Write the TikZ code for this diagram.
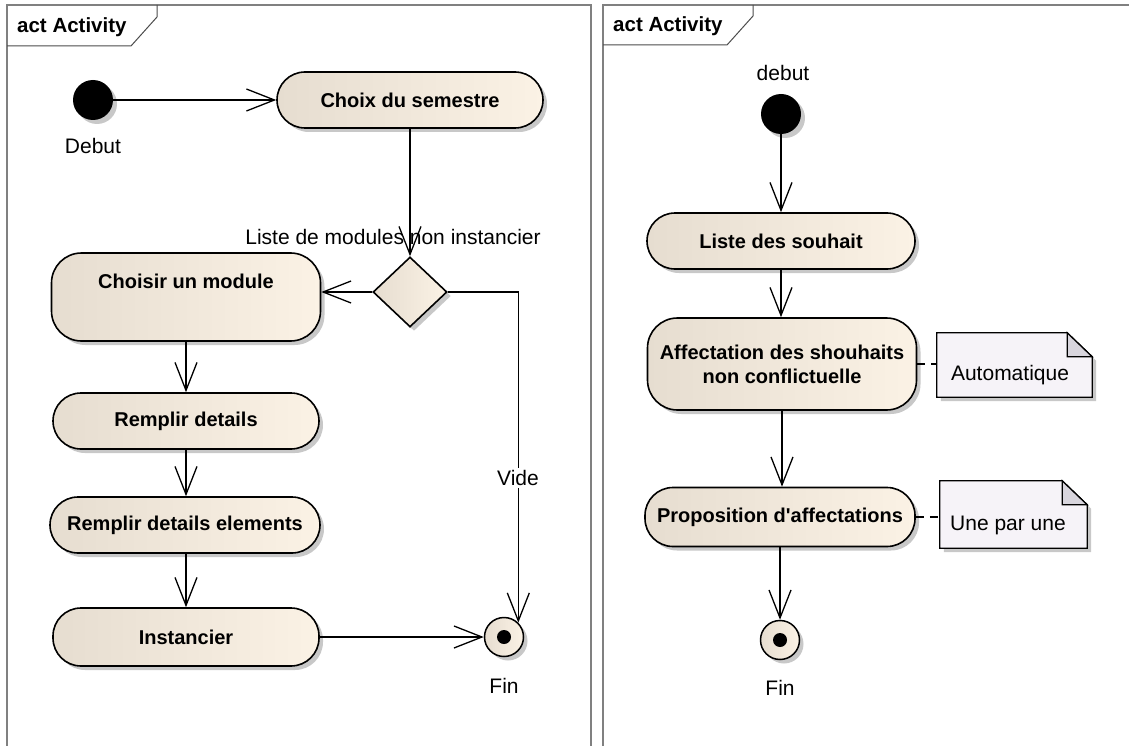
\documentclass[tikz,border=0pt]{standalone}
\usepackage{fontspec}
\setmainfont{Liberation Sans}
\usetikzlibrary{arrows.meta,shapes.geometric,shadows,calc}
\definecolor{actL}{RGB}{230,221,208}
\definecolor{actR}{RGB}{251,242,229}
\definecolor{noteBg}{RGB}{246,243,248}
\definecolor{noteFold}{RGB}{216,213,221}
\definecolor{frameGray}{RGB}{128,128,128}
\definecolor{shadowGray}{RGB}{200,200,200}

\begin{document}
\begin{tikzpicture}[x=1pt,y=-1pt,
  font=\fontsize{20}{24}\selectfont,
  castshadow/.style={drop shadow={shadow xshift=4pt,shadow yshift=-4pt,fill=shadowGray,opacity=1}},
  action/.style={draw=black, line width=1.6pt, rounded corners=28pt,
    minimum width=266pt, minimum height=56pt, inner sep=2pt,
    left color=actL, right color=actR, castshadow,
    font=\bfseries\fontsize{20}{24}\selectfont, align=center},
  bigaction/.style={action, rounded corners=30pt},
  decision/.style={diamond, draw=black, line width=1.6pt, inner sep=0pt,
    minimum width=74pt, minimum height=70pt,
    left color=actL, right color=actR, castshadow},
  initnode/.style={circle, fill=black, minimum size=40pt, inner sep=0pt, castshadow},
  finalnode/.style={circle, draw=black, line width=1.5pt, minimum size=39pt, inner sep=0pt,
    left color=actL, right color=actR, castshadow,
    path picture={\fill[black] (path picture bounding box.center) circle (7pt);}},
  lbl/.style={inner sep=1pt, font=\fontsize{21}{25}\selectfont},
  titlelbl/.style={inner sep=1pt, anchor=west, font=\bfseries\fontsize{20.5}{24}\selectfont},
  notebox/.style={minimum width=#1, inner sep=0pt},
  flow/.style={line width=1.3pt, -{Straight Barb[length=28pt,width=22pt]}},
  anchorline/.style={line width=1.3pt, dash pattern=on 8pt off 6pt},
  framepen/.style={draw=frameGray, line width=1.6pt},
  tabpen/.style={draw=black!70, line width=1pt}
]
\useasboundingbox[fill=white] (0,0) rectangle (1129,746);

% ---------- frames ----------
\draw[framepen] (7,746) -- (7,5) -- (591,5) -- (591,746);
\draw[tabpen] (157,5) -- (157,17) -- (131,46) -- (7,46);
\node[titlelbl] (title1) at (16,27) {act Activity};

\draw[framepen] (603,746) -- (603,5) -- (1129,5);
\draw[tabpen] (753,5) -- (753,16) -- (727,45) -- (603,45);
\node[titlelbl] (title2) at (612,26) {act Activity};

% ---------- left activity ----------
\node[initnode] (init1) at (93,100) {};
\node[lbl] (init1lbl) at (93,146) {Debut};
\node[action] (choix) at (410,100) {Choix du semestre};
\node[decision] (dec) at (410,292) {};
\node[bigaction, minimum width=269pt, minimum height=88pt] (choisir) at (186,297) {Choisir un module\\ \strut};
\node[action] (remplir) at (186,421) {Remplir details};
\node[action, minimum width=270pt] (rde) at (185,525) {Remplir details elements};
\node[action, minimum height=58pt] (inst) at (186,637) {Instancier};
\node[finalnode] (fin1) at (504,637) {};
\node[lbl] (fin1lbl) at (504,686) {Fin};

\draw[flow] (init1) -- (choix.west);
\draw[flow] (choix.south) -- (dec.north);
\node[lbl] (guard) at (393,237) {Liste de modules non instancier};
\draw[flow] (dec.west) -- (dec.west -| choisir.east);
\draw[flow] (choisir.south) -- (remplir.north);
\draw[flow] (remplir.south) -- (remplir.south |- rde.north);
\draw[flow] (rde.south -| remplir.south) -- (remplir.south |- inst.north);
\draw[flow] (inst.east) -- (fin1.west);
\draw[flow] (dec.east) -| (fin1.45);
\node[lbl, fill=white, inner sep=2pt] (vide) at (518,478) {Vide};

% ---------- right activity ----------
\node[initnode] (init2) at (781,114) {};
\node[lbl] (init2lbl) at (783,73) {debut};
\node[action, minimum width=268pt] (souhait) at (781,241) {Liste des souhait};
\node[bigaction, minimum width=269pt, minimum height=92pt] (aff) at (782,364) {Affectation des shouhaits\\non conflictuelle};
\node[action, minimum width=270pt, minimum height=59pt] (prop) at (780,517) {Proposition d\textquotesingle affectations};
\node[finalnode] (fin2) at (780,640) {};
\node[lbl] (fin2lbl) at (780,688) {Fin};

\draw[flow] (init2) -- (init2 |- souhait.north);
\draw[flow] (souhait.south) -- (souhait.south |- aff.north);
\draw[flow] (aff.south) -- (aff.south |- prop.north);
\draw[flow] (prop.south) -- (fin2.north);

% ---------- notes ----------
\node[notebox=155pt, minimum height=64pt] (note1) at (1014.5,365) {};
\draw[black, line width=1.3pt, fill=noteBg, castshadow]
  (note1.north west) -- ($(note1.north east)+(-25,0)$) -- ($(note1.north east)+(0,24)$)
  -- (note1.south east) -- (note1.south west) -- cycle;
\draw[black, line width=1.3pt, fill=noteFold]
  ($(note1.north east)+(-25,0)$) -- ($(note1.north east)+(-25,24)$) -- ($(note1.north east)+(0,24)$) -- cycle;
\node[lbl] (note1txt) at (1010,375) {Automatique};

\node[notebox=147pt, minimum height=67pt] (note2) at (1013.5,514.5) {};
\draw[black, line width=1.3pt, fill=noteBg, castshadow]
  (note2.north west) -- ($(note2.north east)+(-25,0)$) -- ($(note2.north east)+(0,24)$)
  -- (note2.south east) -- (note2.south west) -- cycle;
\draw[black, line width=1.3pt, fill=noteFold]
  ($(note2.north east)+(-25,0)$) -- ($(note2.north east)+(-25,24)$) -- ($(note2.north east)+(0,24)$) -- cycle;
\node[lbl] (note2txt) at (1008,525) {Une par une};

\draw[anchorline] (aff.east) -- (aff.east -| note1.west);
\draw[anchorline] (prop.east) -- (prop.east -| note2.west);
\end{tikzpicture}
\end{document}
